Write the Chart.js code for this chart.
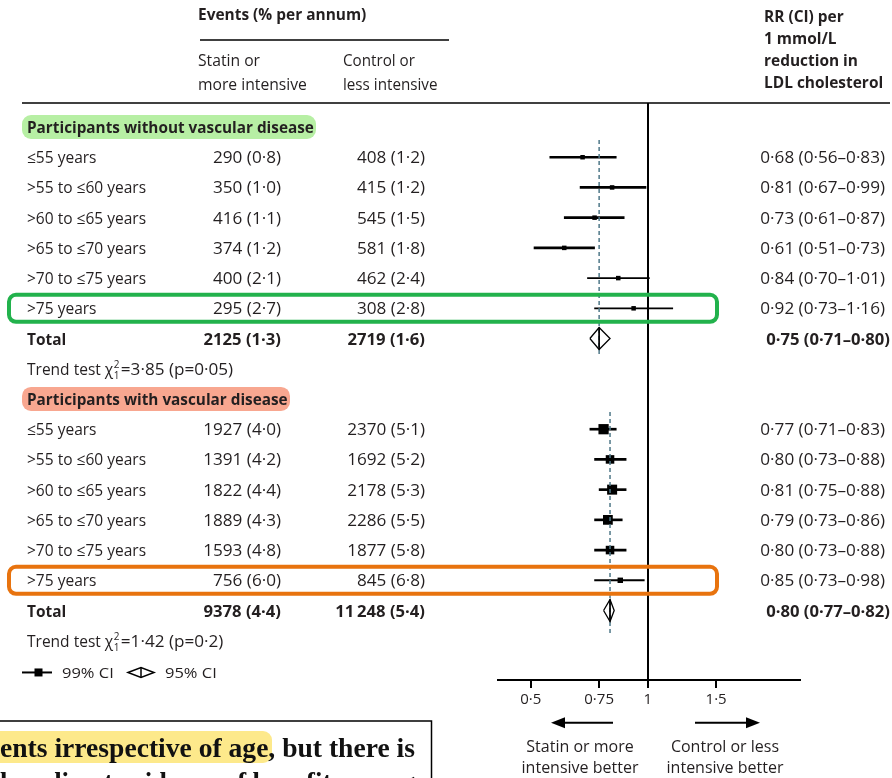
<!DOCTYPE html>
<html><head><meta charset="utf-8">
<script src="https://cdn.jsdelivr.net/npm/chart.js@4"></script>
<style>html,body{margin:0;padding:0;background:#fff;overflow:hidden}canvas{display:block}</style>
</head><body>
<canvas id="c" width="892" height="778" style="width:892px;height:778px"></canvas>
<script>
// ---------------- DATA ----------------
const ageBands = ['≤55 years','>55 to ≤60 years','>60 to ≤65 years','>65 to ≤70 years','>70 to ≤75 years','>75 years'];
const groupTitles = ['Participants without vascular disease','Participants with vascular disease'];

// Participants without vascular disease
const noVdStatinEvents  = [290, 350, 416, 374, 400, 295];
const noVdStatinRate    = [0.8, 1.0, 1.1, 1.2, 2.1, 2.7];
const noVdControlEvents = [408, 415, 545, 581, 462, 308];
const noVdControlRate   = [1.2, 1.2, 1.5, 1.8, 2.4, 2.8];
const noVdRR   = [0.68, 0.81, 0.73, 0.61, 0.84, 0.92];
const noVdLow  = [0.56, 0.67, 0.61, 0.51, 0.70, 0.73];
const noVdHigh = [0.83, 0.99, 0.87, 0.73, 1.01, 1.16];
const noVdTotalEvents = [2125, 2719];
const noVdTotalRate   = [1.3, 1.6];
const noVdTotalRR     = [0.75, 0.71, 0.80];
const noVdTrend       = [3.85, 0.05];

// Participants with vascular disease
const vdStatinEvents  = [1927, 1391, 1822, 1889, 1593, 756];
const vdStatinRate    = [4.0, 4.2, 4.4, 4.3, 4.8, 6.0];
const vdControlEvents = [2370, 1692, 2178, 2286, 1877, 845];
const vdControlRate   = [5.1, 5.2, 5.3, 5.5, 5.8, 6.8];
const vdRR   = [0.77, 0.80, 0.81, 0.79, 0.80, 0.85];
const vdLow  = [0.71, 0.73, 0.75, 0.73, 0.73, 0.73];
const vdHigh = [0.83, 0.88, 0.88, 0.86, 0.88, 0.98];
const vdTotalEvents = [9378, 11248];
const vdTotalRate   = [4.4, 5.4];
const vdTotalRR     = [0.80, 0.77, 0.82];
const vdTrend       = [1.42, 0.2];

const xTicks = [0.5, 0.75, 1, 1.5];

// ---------------- LAYOUT / STYLE ----------------
const ROW0 = 127, ROWH = 30.22;           // pixel centre of first row, row pitch
const AREA_TOP = 103, AREA_BOTTOM = 680;
const yMin = (AREA_TOP - ROW0) / ROWH, yMax = (AREA_BOTTOM - ROW0) / ROWH;
const thinCI = [[false,false,false,false,true,true],[false,false,false,false,false,true]];
const FONT = '"Open Sans"';
const INK = '#231f20';
const SW = 0.965;  // horizontal scale for words
const SN = 1.07;   // horizontal scale for figures
const SNB = 1.04;  // horizontal scale for bold figures

const groups = [
  {title: groupTitles[0], se: noVdStatinEvents, sr: noVdStatinRate, ce: noVdControlEvents, cr: noVdControlRate,
   rr: noVdRR, lo: noVdLow, hi: noVdHigh, te: noVdTotalEvents, tr: noVdTotalRate, trr: noVdTotalRR, trend: noVdTrend},
  {title: groupTitles[1], se: vdStatinEvents, sr: vdStatinRate, ce: vdControlEvents, cr: vdControlRate,
   rr: vdRR, lo: vdLow, hi: vdHigh, te: vdTotalEvents, tr: vdTotalRate, trr: vdTotalRR, trend: vdTrend}
];
const base = g => g * 9;   // header row index of group g

const dot = s => String(s).replace('.', '·');
const f1 = v => dot(v.toFixed(1));
const f2 = v => dot(v.toFixed(2));
const fn = v => v >= 10000 ? String(v).slice(0, -3) + '\u2009' + String(v).slice(-3) : String(v);

// ---------------- DATASETS ----------------
const ciThickData = [], ciThinData = [], sqData = [], sqRadius = [];
groups.forEach((G, g) => {
  G.rr.forEach((v, i) => {
    const row = base(g) + 1 + i;
    (thinCI[g][i] ? ciThinData : ciThickData).push({y: row, x: [G.lo[i], G.hi[i]]});
    sqData.push({x: v, y: row});
    const side = Math.max(4.5, 1.6 / Math.log(G.hi[i] / G.lo[i]));
    sqRadius.push(side / Math.SQRT2);
  });
});
const HH = 11 / ROWH; // diamond half height in rows
const datasets = [
  {type: 'bar', indexAxis: 'y', grouped: false, barThickness: 2, backgroundColor: '#000', borderWidth: 0, data: ciThickData, order: 4},
  {type: 'bar', indexAxis: 'y', grouped: false, barThickness: 1.2, backgroundColor: '#000', borderWidth: 0, data: ciThinData, order: 4},
  {type: 'scatter', data: sqData, pointStyle: 'rect', pointRadius: sqRadius, pointBackgroundColor: '#000', pointBorderWidth: 0, order: 3}
];
groups.forEach((G, g) => {
  const tRow = base(g) + 7;
  const [est, lo, hi] = G.trr;
  datasets.push({type: 'scatter', showLine: true, data: [{x: est, y: base(g) + 0.43}, {x: est, y: tRow + (g ? 0.74 : 0.6)}],
    borderColor: '#4f7888', borderWidth: 1.5, borderDash: [4, 3], pointRadius: 0, order: 2});
  datasets.push({type: 'scatter', showLine: true, fill: false,
    data: [{x: lo, y: tRow}, {x: est, y: tRow - HH}, {x: hi, y: tRow}, {x: est, y: tRow + HH}, {x: lo, y: tRow}],
    borderColor: '#000', borderWidth: 1.3, pointRadius: 0, tension: 0, order: 1});
  datasets.push({type: 'scatter', showLine: true, data: [{x: est, y: tRow - HH}, {x: est, y: tRow + HH}],
    borderColor: '#000', borderWidth: 1, pointRadius: 0, order: 1});
});

// ---------------- TEXT / DECORATION PLUGIN ----------------
function txt(ctx, s, x, y, font, align, sx, color) {
  sx = sx || 1;
  ctx.font = font; ctx.textAlign = 'left'; ctx.textBaseline = 'alphabetic';
  ctx.fillStyle = color || INK;
  const w = ctx.measureText(s).width * sx;
  const x0 = align === 'right' ? x - w : align === 'center' ? x - w / 2 : x;
  ctx.save(); ctx.translate(x0, y); ctx.scale(sx, 1); ctx.fillText(s, 0, 0); ctx.restore();
  return w;
}
function rr(ctx, x, y, w, h, r) {
  ctx.beginPath();
  if (ctx.roundRect) ctx.roundRect(x, y, w, h, r); else ctx.rect(x, y, w, h);
}
const REG = '16px ' + FONT, BOLD = 'bold 16px ' + FONT;

const deco = {
  id: 'deco',
  beforeDatasetsDraw(chart) {
    const ctx = chart.ctx, ys = chart.scales.y;
    const Y = r => ys.getPixelForValue(r);
    ctx.save();
    // column headers
    txt(ctx, 'Events (% per annum)', 198, 20, BOLD, 'left', SW);
    ctx.strokeStyle = '#000'; ctx.lineWidth = 1.5;
    ctx.beginPath(); ctx.moveTo(200, 40); ctx.lineTo(449, 40); ctx.stroke();
    txt(ctx, 'Statin or', 198, 66, REG, 'left', 0.98); txt(ctx, 'more intensive', 198, 90, REG, 'left', 0.98);
    txt(ctx, 'Control or', 343, 66, REG, 'left', 0.95); txt(ctx, 'less intensive', 343, 90, REG, 'left', 0.95);
    ['RR (CI) per', '1 mmol/L', 'reduction in', 'LDL cholesterol'].forEach((s, i) =>
      txt(ctx, s, 764, 21.5 + i * 22.3, BOLD, 'left', SW));
    ctx.beginPath(); ctx.moveTo(22, AREA_TOP); ctx.lineTo(890, AREA_TOP); ctx.stroke();

    const pill = ['#b7efa4', '#f8a790'];
    const pillW = [294, 268];
    groups.forEach((G, g) => {
      const hy = Y(base(g));
      ctx.fillStyle = pill[g]; rr(ctx, 22, hy - 12, pillW[g], 24, 9); ctx.fill();
      txt(ctx, G.title, 27, hy + 6, BOLD, 'left', 0.957);
      G.rr.forEach((v, i) => {
        const y = Y(base(g) + 1 + i) + 6;
        txt(ctx, ageBands[i], 27, y, REG, 'left', 0.97);
        txt(ctx, fn(G.se[i]) + ' (' + f1(G.sr[i]) + ')', 281, y, REG, 'right', SN);
        txt(ctx, fn(G.ce[i]) + ' (' + f1(G.cr[i]) + ')', 425, y, REG, 'right', SN);
        txt(ctx, f2(v) + ' (' + f2(G.lo[i]) + '–' + f2(G.hi[i]) + ')', 885, y, REG, 'right', SN);
      });
      const ty = Y(base(g) + 7) + 6;
      txt(ctx, 'Total', 27, ty, BOLD, 'left', SW);
      txt(ctx, fn(G.te[0]) + ' (' + f1(G.tr[0]) + ')', 281, ty, BOLD, 'right', SNB);
      txt(ctx, fn(G.te[1]) + ' (' + f1(G.tr[1]) + ')', 425, ty, BOLD, 'right', SNB);
      txt(ctx, f2(G.trr[0]) + ' (' + f2(G.trr[1]) + '–' + f2(G.trr[2]) + ')', 890, ty, BOLD, 'right', SNB);
      // trend test
      const ry = Y(base(g) + 8) + 6;
      const w1 = txt(ctx, 'Trend test χ', 27, ry, REG, 'left', 0.97);
      txt(ctx, '2', 27 + w1 + 0.5, ry - 6.5, '10px ' + FONT);
      txt(ctx, '1', 27 + w1 + 0.5, ry + 4, '10px ' + FONT);
      txt(ctx, '=' + f2(G.trend[0]) + ' (p=' + dot(G.trend[1]) + ')', 27 + w1 + 7.5, ry, REG, 'left', SN);
    });
    ctx.restore();
  },
  afterDatasetsDraw(chart) {
    const ctx = chart.ctx, ys = chart.scales.y;
    const Y = r => ys.getPixelForValue(r);
    ctx.save();
    // highlight boxes around the >75 rows
    const boxCol = ['#22b24c', '#e8730e'];
    [0, 1].forEach(g => {
      const y = Y(base(g) + 6);
      ctx.strokeStyle = boxCol[g]; ctx.lineWidth = 4;
      rr(ctx, 9, y - 13.5, 708, 27, 7); ctx.stroke();
    });
    // legend
    const ly = Y(18) + 1.5;
    ctx.strokeStyle = '#000'; ctx.lineWidth = 2;
    ctx.beginPath(); ctx.moveTo(22, ly); ctx.lineTo(52, ly); ctx.stroke();
    ctx.fillStyle = '#000'; ctx.fillRect(34.5, ly - 4, 8, 8);
    txt(ctx, '99% CI', 62, ly + 5.5, '15px ' + FONT, 'left', 1.1);
    ctx.lineWidth = 1.5;
    ctx.beginPath(); ctx.moveTo(128, ly); ctx.lineTo(141, ly - 5); ctx.lineTo(154, ly); ctx.lineTo(141, ly + 5); ctx.closePath(); ctx.stroke();
    ctx.beginPath(); ctx.moveTo(141, ly - 5); ctx.lineTo(141, ly + 5); ctx.stroke();
    txt(ctx, '95% CI', 165, ly + 5.5, '15px ' + FONT, 'left', 1.1);
    // direction arrows
    const ay = 722.7;
    ctx.lineWidth = 2; ctx.strokeStyle = '#000'; ctx.fillStyle = '#000';
    ctx.beginPath(); ctx.moveTo(613, ay); ctx.lineTo(562, ay); ctx.stroke();
    ctx.beginPath(); ctx.moveTo(551, ay); ctx.lineTo(565, ay - 5.5); ctx.lineTo(565, ay + 5.5); ctx.closePath(); ctx.fill();
    ctx.beginPath(); ctx.moveTo(695, ay); ctx.lineTo(749, ay); ctx.stroke();
    ctx.beginPath(); ctx.moveTo(760, ay); ctx.lineTo(746, ay - 5.5); ctx.lineTo(746, ay + 5.5); ctx.closePath(); ctx.fill();
    txt(ctx, 'Statin or more', 580, 751.5, REG, 'center');
    txt(ctx, 'intensive better', 580, 773, REG, 'center');
    txt(ctx, 'Control or less', 725, 751.5, REG, 'center');
    txt(ctx, 'intensive better', 725, 773, REG, 'center');
    // excerpt box at the bottom
    ctx.fillStyle = '#fde98b'; rr(ctx, -12, 731, 284, 32, 9); ctx.fill();
    ctx.strokeStyle = '#000'; ctx.lineWidth = 1.5; ctx.strokeRect(-2, 721, 433.5, 120);
    ctx.font = 'bold 28px "Liberation Serif"'; ctx.fillStyle = '#111'; ctx.textAlign = 'left';
    ctx.fillText('ents irrespective of age, but there is', 0, 757, 415);
    ctx.fillText('less direct evidence of benefit among', 0, 791, 415);
    ctx.restore();
  }
};

// ---------------- CHART ----------------
new Chart(document.getElementById('c'), {
  type: 'scatter',
  data: {datasets},
  options: {
    responsive: false, animation: false, devicePixelRatio: 1,
    layout: {padding: {left: 498, right: 92, top: AREA_TOP, bottom: 778 - AREA_BOTTOM - 30}},
    plugins: {legend: {display: false}, tooltip: {enabled: false}},
    scales: {
      x: {
        type: 'logarithmic', min: 0.412, max: 2.465, offset: false,
        afterBuildTicks: ax => { ax.ticks = xTicks.map(v => ({value: v})); },
        afterFit: ax => { ax.height = 30; },
        ticks: {autoSkip: false, maxRotation: 0, padding: 3, color: INK, font: {family: 'Open Sans', size: 15},
          callback: v => dot(v)},
        grid: {drawOnChartArea: true, offset: false, color: c => (c.tick && c.tick.value === 1) ? '#000' : 'rgba(0,0,0,0)',
          lineWidth: 2, tickColor: '#000', tickLength: 8, tickWidth: 2},
        border: {display: true, color: '#000', width: 2}
      },
      y: {type: 'linear', reverse: true, min: yMin, max: yMax, offset: false, grace: 0, display: false}
    }
  },
  plugins: [deco]
});
</script>
</body></html>
